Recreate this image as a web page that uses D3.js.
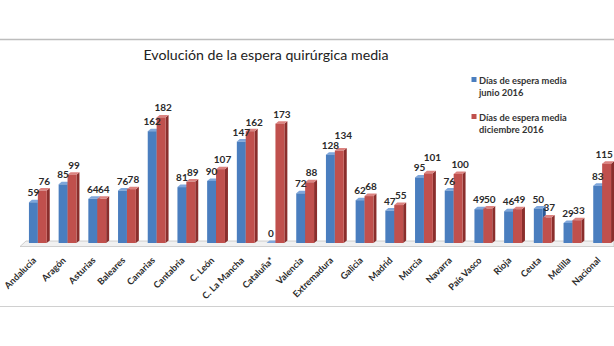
<!DOCTYPE html>
<html>
<head>
<meta charset="utf-8">
<script src="https://cdn.jsdelivr.net/npm/d3@7"></script>
<style>
  html, body { margin: 0; padding: 0; background: #fff; }
  svg { display: block; }
</style>
</head>
<body>
<svg id="chart" width="614" height="346"></svg>
<script>
const categories = ["Andalucía","Aragón","Asturias","Baleares","Canarias","Cantabria","C. León","C. La Mancha","Cataluña*","Valencia","Extremadura","Galicia","Madrid","Murcia","Navarra","País Vasco","Rioja","Ceuta","Melilla","Nacional"];
const junio2016 = [59,85,64,76,162,81,90,147,0,72,128,62,47,95,76,49,46,50,29,83];
const diciembre2016 = [76,99,64,78,182,89,107,162,173,88,134,68,55,101,100,50,49,37,33,115];
const seriesNames = ["Días de espera media junio 2016","Días de espera media diciembre 2016"];
const title = "Evolución de la espera quirúrgica media";

const svg = d3.select("#chart");
const W = 614, H = 346;
const FONT = "Lato, 'Open Sans', sans-serif";

// frame lines
svg.append("line").attr("x1",0).attr("x2",W).attr("y1",39.5).attr("y2",39.5)
  .attr("stroke","#bdbdbd").attr("stroke-width",1.5);
svg.append("line").attr("x1",0).attr("x2",W).attr("y1",306.5).attr("y2",306.5)
  .attr("stroke","#d0d0d0").attr("stroke-width",1.2);

// title
svg.append("text").attr("x",266).attr("y",60).attr("text-anchor","middle")
  .attr("font-family",FONT).attr("font-size",14.2).attr("fill","#222").text(title);

const x = d3.scaleBand().domain(categories).range([23, 617]).paddingInner(0.4).paddingOuter(0.2);
const xs = d3.scaleBand().domain([0,1]).range([0, x.bandwidth()]);
const y = d3.scaleLinear().domain([0, 200]).range([243, 105]);

// floor
const floor = d3.path();
floor.moveTo(20, 246.5); floor.lineTo(26, 241); floor.lineTo(W, 241); floor.lineTo(W, 246.5); floor.closePath();
svg.append("path").attr("d", floor.toString()).attr("fill","#f1f1f1").attr("stroke","#c4c4c4").attr("stroke-width",0.8);

const colors = [
  {front:"#4a7ebf", top:"#7ea6db", side:"#2d5a98"},
  {front:"#c0504d", top:"#dc8380", side:"#8a2e2c"}
];
const dx = 3, dy = 2.5;

const series = [junio2016, diciembre2016];
const g = svg.append("g");
categories.forEach((c, i) => {
  series.forEach((vals, s) => {
    const v = vals[i];
    const x0 = x(c) + xs(s), w = xs.bandwidth();
    const yt = y(v), yb = y(0);
    const col = colors[s];
    const bg = g.append("g");
    bg.append("path").attr("d", `M${x0+w},${yb} L${x0+w+dx},${yb-dy} L${x0+w+dx},${yt-dy} L${x0+w},${yt} Z`)
      .attr("fill", col.side);
    bg.append("path").attr("d", `M${x0},${yt} L${x0+dx},${yt-dy} L${x0+w+dx},${yt-dy} L${x0+w},${yt} Z`)
      .attr("fill", col.top);
    bg.append("rect").attr("x", x0).attr("y", yt).attr("width", w).attr("height", Math.max(0, yb - yt))
      .attr("fill", col.front);
  });
});

// value labels
function overlaps(a, b) {
  return a.x < b.x + b.width - 1 && b.x < a.x + a.width - 1 &&
         a.y < b.y + b.height - 1 && b.y < a.y + a.height - 1;
}
categories.forEach((c, i) => {
  const made = [];
  series.forEach((vals, s) => {
    const v = vals[i];
    const t = svg.append("text")
      .attr("x", x(c) + xs(s) + xs.bandwidth()/2 + (s === 1 ? 2 : 0))
      .attr("y", y(v) - 6)
      .attr("text-anchor","middle")
      .attr("font-family",FONT).attr("font-weight",700).attr("font-size",10)
      .attr("fill","#2a2a2a").text(v);
    let bb = t.node().getBBox();
    if (bb.x + bb.width > W - 1) t.attr("x", W - 1 - bb.width/2);
    if (s === 1 && made.length) {
      const pb = made[0].node().getBBox();
      bb = t.node().getBBox();
      if (overlaps(bb, pb)) {
        const shift = (bb.y + bb.height) - pb.y - 2;
        t.attr("y", +t.attr("y") - shift).attr("x", +t.attr("x") + 2);
      }
    }
    made.push(t);
  });
});

// category axis labels
const xAxis = d3.axisBottom(x).tickSize(0).tickPadding(0);
const ax = svg.append("g").attr("transform","translate(0,259)").call(xAxis);
ax.select(".domain").remove();
ax.selectAll("text")
  .attr("font-family",FONT).attr("font-weight",700).attr("font-size",9.2)
  .attr("fill","#2a2a2a")
  .attr("text-anchor","end")
  .attr("dy","0.3em")
  .attr("transform","translate(-3,0) rotate(-45)");

// legend
const legend = svg.append("g");
const legendY = [80, 117];
seriesNames.forEach((name, s) => {
  const parts = [name.replace(/ (junio|diciembre).*/, ""), name.match(/(junio|diciembre).*/)[0]];
  legend.append("rect").attr("x",471.5).attr("y",legendY[s]-3).attr("width",5).attr("height",5)
    .attr("fill", colors[s].front);
  const t = legend.append("text").attr("font-family",FONT).attr("font-weight",700).attr("font-size",9.3)
    .attr("fill","#333");
  t.append("tspan").attr("x",479).attr("y",legendY[s]+3.5).text(parts[0]);
  t.append("tspan").attr("x",479).attr("y",legendY[s]+16).text(parts[1]);
});
</script>
</body>
</html>
